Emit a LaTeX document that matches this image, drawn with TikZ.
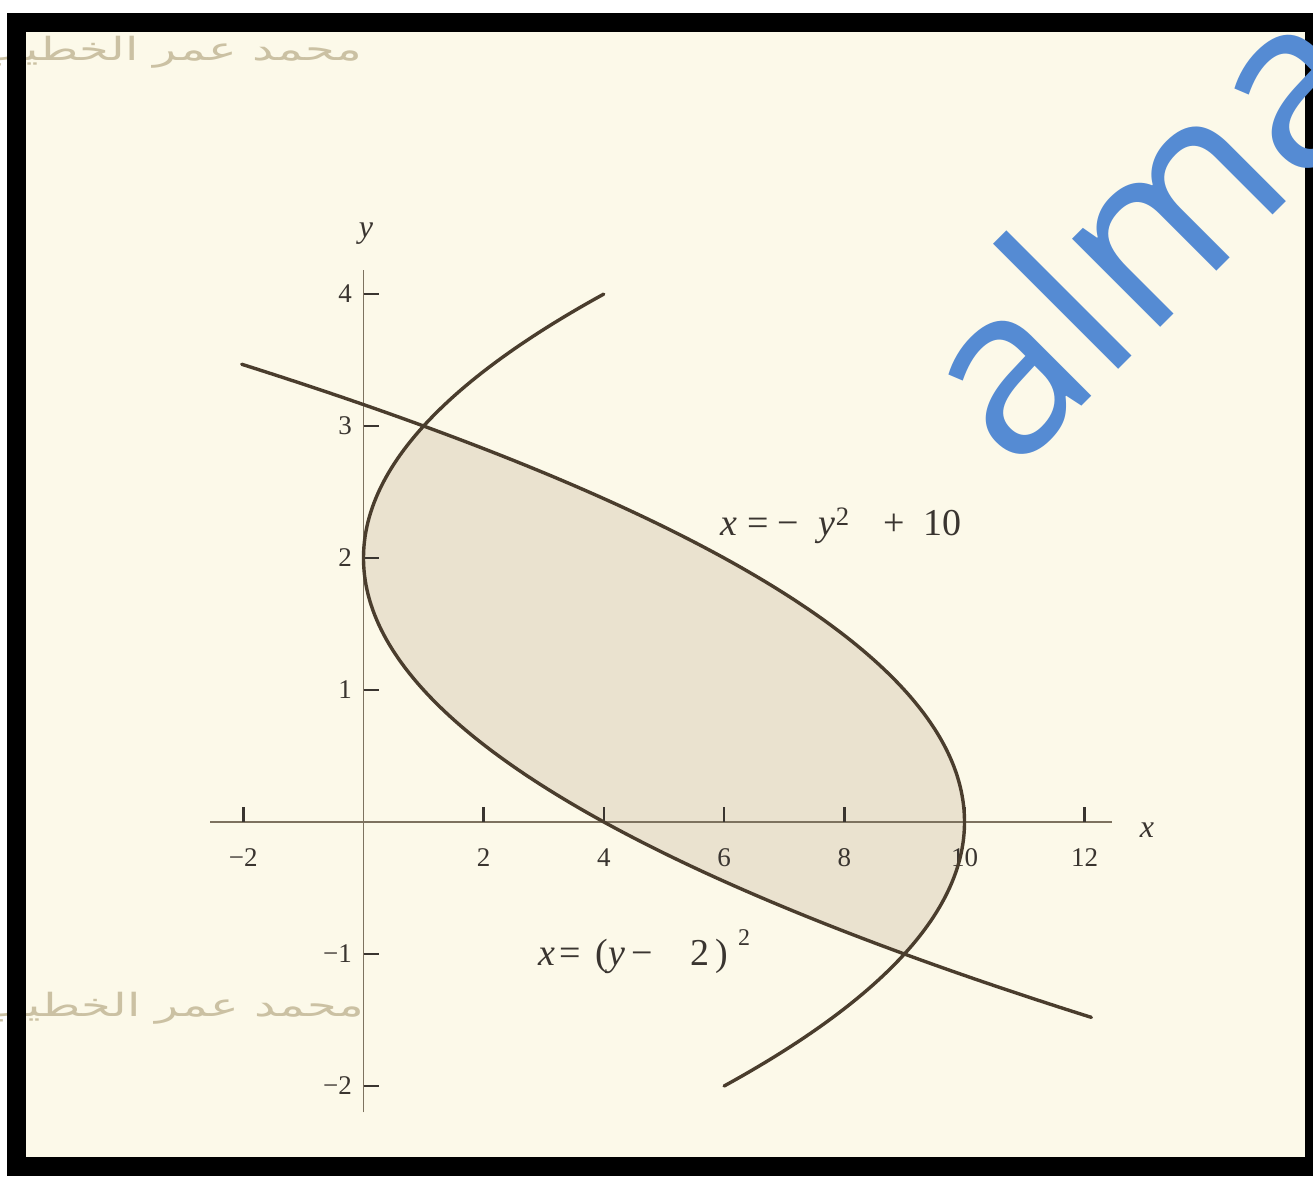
\documentclass[tikz,border=0pt]{standalone}
\usepackage{fontspec}
\setmainfont{Liberation Serif}
\newfontfamily\wmfont{Open Sans}
\newfontfamily\arabicfont[Script=Arabic]{DejaVu Sans}
\TeXXeTstate=1
\definecolor{paper}{HTML}{FCF9E9}
\definecolor{shadefill}{HTML}{EAE2CF}
\definecolor{curvecol}{HTML}{4A3D2D}
\definecolor{axiscol}{HTML}{7D725F}
\definecolor{textcol}{HTML}{3A3530}
\definecolor{wmblue}{HTML}{558BD3}
\definecolor{handcol}{HTML}{CBC1A3}
\tikzset{
  curve/.style={draw=curvecol, line width=3.4pt, line cap=round},
  axisline/.style={draw=axiscol, line width=2.2pt},
  tickmark/.style={draw=textcol, line width=2.6pt},
  ticklabel/.style={text=textcol, font=\fontsize{27}{27}\selectfont, inner sep=0pt},
  eqlabel/.style={text=textcol, font=\fontsize{38}{38}\selectfont, inner sep=0pt},
  axislabel/.style={text=textcol, font=\fontsize{32}{32}\selectfont\itshape, inner sep=0pt},
  watermark/.style={text=wmblue, font=\wmfont\fontsize{233}{233}\selectfont, inner sep=0pt},
  handwriting/.style={text=handcol, font=\arabicfont\fontsize{32}{32}\selectfont, inner sep=0pt, xscale=1.5}
}
\begin{document}
\begin{tikzpicture}[x=1pt,y=-1pt]
\useasboundingbox (0,0) rectangle (1313,1179);
\clip (0,0) rectangle (1313,1179);
\fill[white] (0,0) rectangle (1313,1179);
\fill[paper] (10,15) rectangle (1313,1172);
% handwritten names
\node[handwriting, anchor=east] (hw1) at (362,52) {\beginR محمد عمر الخطيب\endR};
\node[handwriting, anchor=east] (hw2) at (364,1008) {\beginR محمد عمر الخطيب\endR};
% graph
\begin{scope}[shift={(363.5,822)}, x=60.1pt, y=132pt]
  \fill[shadefill] plot[domain=-1:3, samples=100, variable=\t] ({((\t)-2)^2},\t)
     -- plot[domain=3:-1, samples=100, variable=\t] ({10-(\t)^2},\t) -- cycle;
  \draw[axisline] (-2.55,0) -- (12.45,0);
  \draw[axisline, line width=1.8pt] (0,-2.2) -- (0,4.18);
  \foreach \xv/\xl in {-2/−2,2/2,4/4,6/6,8/8,10/10,12/12} {
    \draw[tickmark] (\xv,0) -- (\xv,0.115);
    \node[ticklabel] (xt\xv) at (\xv,-0.27) {\xl};
  }
  \foreach \yv/\yl in {-2/−2,-1/−1,1/1,2/2,3/3,4/4} {
    \draw[tickmark] (0,\yv) -- (0.25,\yv);
    \node[ticklabel, anchor=east] (yt\yv) at (-0.19,\yv) {\yl};
  }
  \draw[curve] plot[domain=-2:3.47, samples=150, variable=\t] ({10-(\t)^2},\t);
  \draw[curve] plot[domain=-1.48:4, samples=150, variable=\t] ({((\t)-2)^2},\t);
\end{scope}
% labels
\node[axislabel] (xlab) at (1147,830) {x};
\node[axislabel] (ylab) at (366,234) {y};
\node[eqlabel, anchor=base west] (eqa) at (720,535)
  {\textit{x}\hspace{10pt}=\hspace{9pt}−\hspace{20pt}\textit{y}\textsuperscript{2}\hspace{34pt}+\hspace{18pt}10};
\node[eqlabel, anchor=base west] (eqb) at (538,965)
  {\textit{x}\hspace{4pt}=\hspace{15pt}(\textit{y}\hspace{6pt}−\hspace{38pt}2\hspace{6pt})\hspace{10pt}\raisebox{20pt}{\fontsize{24}{24}\selectfont 2}};
% frame
\draw[black, line width=19pt] (16,22.5) rectangle (1314,1166);
% watermark
\node[watermark, rotate=45, anchor=base west] (wm) at (1013,475) {alma};
\end{tikzpicture}
\end{document}
